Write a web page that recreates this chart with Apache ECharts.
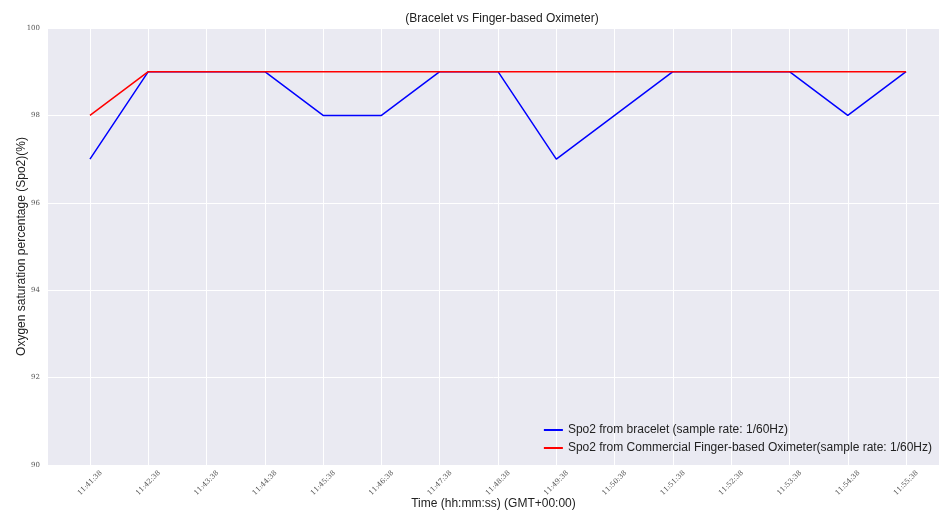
<!DOCTYPE html>
<html>
<head>
<meta charset="utf-8">
<script src="https://cdn.jsdelivr.net/npm/echarts@6/dist/echarts.min.js"></script>
<style>
  html, body { margin: 0; padding: 0; background: #fff; }
  #chart { width: 940px; height: 510px; }
</style>
</head>
<body>
<div id="chart"></div>
<script>
const times = ['11:41:38', '11:42:38', '11:43:38', '11:44:38', '11:45:38', '11:46:38', '11:47:38', '11:48:38',
  '11:49:38', '11:50:38', '11:51:38', '11:52:38', '11:53:38', '11:54:38', '11:55:38'];
const bracelet = [97, 99, 99, 99, 98, 98, 99, 99, 97, 98, 99, 99, 99, 98, 99];
const finger = [98, 99, 99, 99, 99, 99, 99, 99, 99, 99, 99, 99, 99, 99, 99];
const yTicks = [90, 92, 94, 96, 98, 100];

const names = [
  'Spo2 from bracelet (sample rate: 1/60Hz)',
  'Spo2 from Commercial Finger-based Oximeter(sample rate: 1/60Hz)'
];
const idx = times.map((t, i) => i);
const textFont = 'Liberation Sans';
const tickFont = 'DejaVu Serif';

const chart = echarts.init(document.getElementById('chart'), null, { renderer: 'canvas' });
chart.setOption({
  animation: false,
  backgroundColor: '#fff',
  title: {
    text: '(Bracelet vs Finger-based Oximeter)',
    left: 497, textAlign: 'center', top: 8,
    textStyle: { fontFamily: textFont, fontSize: 12, fontWeight: 'normal', color: '#222' }
  },
  grid: {
    left: 48, right: 1, top: 28, bottom: 45,
    outerBoundsMode: 'none', containLabel: false,
    show: true, backgroundColor: '#eaeaf2', borderWidth: 0
  },
  legend: {
    orient: 'vertical', right: 3, top: 419, itemGap: 6,
    itemWidth: 19, itemHeight: 2, icon: 'rect',
    textStyle: { fontFamily: textFont, fontSize: 12, color: '#222' },
    data: names
  },
  xAxis: {
    type: 'value',
    min: -0.72, max: 14.565,
    name: 'Time (hh:mm:ss) (GMT+00:00)',
    nameLocation: 'middle', nameGap: 33, nameMoveOverlap: false,
    nameTextStyle: { fontFamily: textFont, fontSize: 12, color: '#222' },
    axisLine: { show: false },
    axisTick: { show: false, customValues: idx },
    axisLabel: {
      customValues: idx, rotate: 45, margin: 18,
      align: 'center', verticalAlign: 'middle',
      fontFamily: tickFont, fontSize: 7, color: '#555',
      formatter: v => times[v] || ''
    },
    splitLine: { show: true, lineStyle: { color: '#fff', width: 1 } }
  },
  yAxis: {
    type: 'value', min: 90, max: 100, interval: 2,
    name: 'Oxygen saturation percentage (Spo2)(%)',
    nameLocation: 'middle', nameGap: 20, nameMoveOverlap: false,
    nameTextStyle: { fontFamily: textFont, fontSize: 12, color: '#222' },
    axisLine: { show: false },
    axisTick: { show: false },
    axisLabel: {
      fontFamily: tickFont, fontSize: 7, color: '#555', margin: 8,
      formatter: v => yTicks.includes(v) ? String(v) : ''
    },
    splitLine: { show: true, lineStyle: { color: '#fff', width: 1 } }
  },
  series: [
    {
      name: names[0], type: 'line', symbol: 'none',
      color: '#0000ff', lineStyle: { width: 1.5 },
      data: bracelet.map((v, i) => [i, v])
    },
    {
      name: names[1], type: 'line', symbol: 'none',
      color: '#ff0000', lineStyle: { width: 1.5 },
      data: finger.map((v, i) => [i, v])
    }
  ]
});
</script>
</body>
</html>
